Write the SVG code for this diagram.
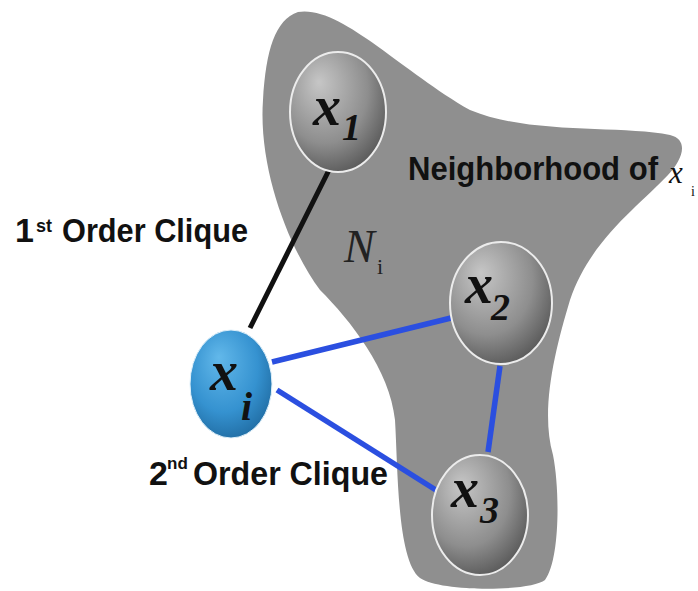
<svg xmlns="http://www.w3.org/2000/svg" width="698" height="591" viewBox="0 0 698 591">
<defs>
<radialGradient id="gGray" cx="0.4" cy="0.35" r="0.75" fx="0.3" fy="0.25">
<stop offset="0" stop-color="#c6c6c6"/>
<stop offset="0.6" stop-color="#8e8e8e"/>
<stop offset="1" stop-color="#4e4e4e"/>
</radialGradient>
<radialGradient id="gBlue" cx="0.45" cy="0.4" r="0.7" fx="0.35" fy="0.25">
<stop offset="0" stop-color="#62b8ea"/>
<stop offset="0.6" stop-color="#3592d0"/>
<stop offset="1" stop-color="#1c6499"/>
</radialGradient>
</defs>
<style>
.blob{fill:#8f8f8f}
.node{fill:url(#gGray);stroke:#ececec;stroke-width:2}
.nodei{fill:url(#gBlue);stroke:#dff0fa;stroke-width:1}
.lbl{font-family:"Liberation Serif",serif;font-weight:bold;font-style:italic;fill:#111}
.big{font-size:56px}
.sub{font-size:38px}
.sans{font-family:"Liberation Sans",Arial,sans-serif;font-weight:bold;fill:#111}
.c1{stroke:#111;stroke-width:5;fill:none}
.c2{stroke:#2b4fe0;stroke-width:5.5;fill:none}
</style>
<rect width="698" height="591" fill="#ffffff"/>
<g id="neighborhood">
<path class="blob" d="M298,12 C340,5 400,70 470,110 C530,135 620,125 670,135 C690,140 682,160 668,175 C640,205 590,240 570,300 C555,350 540,410 553,455 C560,490 560,560 545,580 C530,592 440,592 420,578 C397,560 398,470 395,420 C390,370 350,320 320,290 C290,250 258,170 263,100 C266,50 275,20 298,12 Z"/>
<text x="344" y="262" font-family="Liberation Serif,serif" font-style="italic" font-size="46" fill="#222">N</text>
<text x="377" y="274" font-family="Liberation Serif,serif" font-size="22" fill="#222">i</text>
<text class="sans" x="408" y="180" font-size="34" textLength="250" lengthAdjust="spacingAndGlyphs">Neighborhood of</text>
<text x="669" y="183" font-family="Liberation Serif,serif" font-style="italic" font-size="31" fill="#111">x</text>
<text x="691" y="196" font-family="Liberation Serif,serif" font-size="14" fill="#111">i</text>
</g>
<g id="connectors">
<line class="c1" x1="331" y1="166" x2="250" y2="328"/>
<line class="c2" x1="272" y1="362" x2="451" y2="318"/>
<line class="c2" x1="277" y1="390" x2="439" y2="492"/>
<line class="c2" x1="500" y1="366" x2="488" y2="452"/>
</g>
<g id="x1">
<ellipse class="node" cx="338" cy="112" rx="48" ry="60"/>
<text class="lbl big" x="313" y="125">x</text>
<text class="lbl sub" x="342" y="140">1</text>
</g>
<g id="x2">
<ellipse class="node" cx="501" cy="303" rx="51" ry="61"/>
<text class="lbl big" x="465" y="303">x</text>
<text class="lbl sub" x="491" y="320">2</text>
</g>
<g id="x3">
<ellipse class="node" cx="480" cy="515" rx="48" ry="60"/>
<text class="lbl big" x="451" y="507">x</text>
<text class="lbl sub" x="480" y="523">3</text>
</g>
<g id="xi">
<ellipse class="nodei" cx="231" cy="384" rx="41" ry="54"/>
<text class="lbl big" x="210" y="390">x</text>
<text class="lbl" x="241" y="420" font-size="40">i</text>
</g>
<g id="label-first">
<text class="sans" x="15" y="242" font-size="34">1</text>
<text class="sans" x="36" y="232" font-size="18">st</text>
<text class="sans" x="62" y="242" font-size="34" textLength="186" lengthAdjust="spacingAndGlyphs">Order Clique</text>
</g>
<g id="label-second">
<text class="sans" x="149" y="485" font-size="34">2</text>
<text class="sans" x="167" y="469" font-size="17">nd</text>
<text class="sans" x="193" y="485" font-size="34" textLength="195" lengthAdjust="spacingAndGlyphs">Order Clique</text>
</g>
</svg>
